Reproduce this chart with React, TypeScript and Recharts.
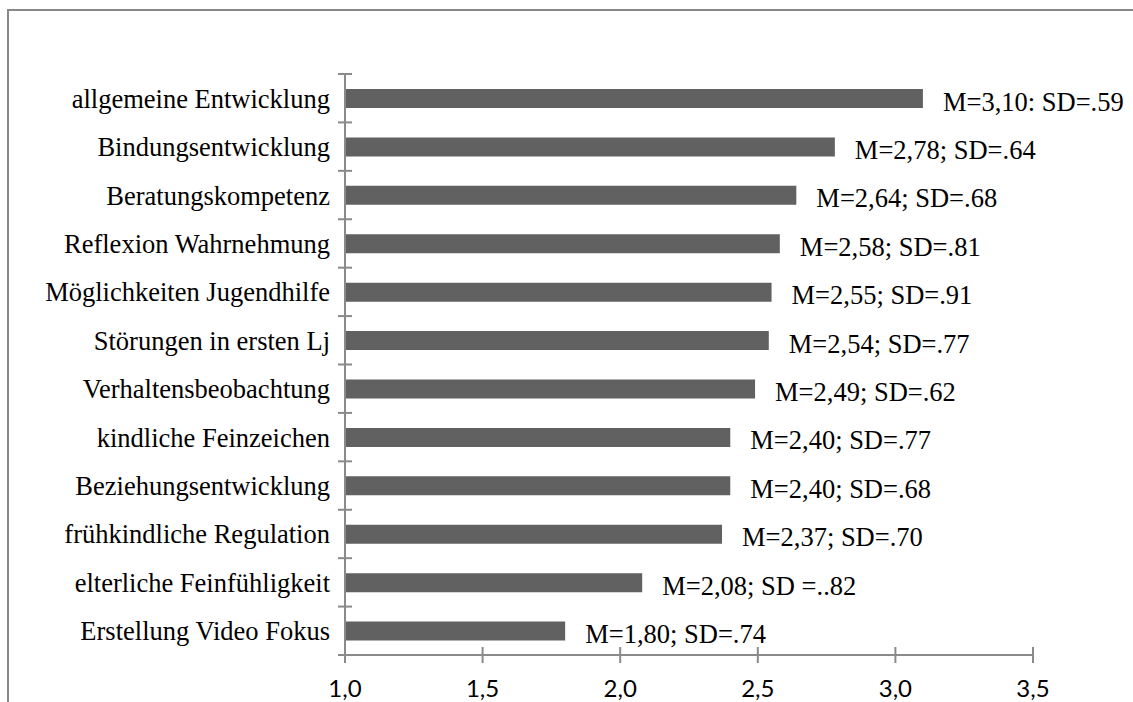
import { BarChart, Bar, XAxis, YAxis, LabelList } from "recharts";

const categories = [
  "allgemeine Entwicklung",
  "Bindungsentwicklung",
  "Beratungskompetenz",
  "Reflexion Wahrnehmung",
  "Möglichkeiten Jugendhilfe",
  "Störungen in ersten Lj",
  "Verhaltensbeobachtung ",
  "kindliche Feinzeichen",
  "Beziehungsentwicklung",
  "frühkindliche Regulation",
  "elterliche Feinfühligkeit",
  "Erstellung Video Fokus",
];

const means = [3.1, 2.78, 2.64, 2.58, 2.55, 2.54, 2.49, 2.4, 2.4, 2.37, 2.08, 1.8];

const valueLabels = [
  "M=3,10: SD=.59",
  "M=2,78; SD=.64",
  "M=2,64; SD=.68",
  "M=2,58; SD=.81",
  "M=2,55; SD=.91",
  "M=2,54; SD=.77",
  "M=2,49; SD=.62",
  "M=2,40; SD=.77",
  "M=2,40; SD=.68",
  "M=2,37; SD=.70",
  "M=2,08; SD =..82",
  "M=1,80; SD=.74",
];

const xTicks = [1, 1.5, 2, 2.5, 3, 3.5];

const data = categories.map((name, i) => ({ name, mean: means[i], label: valueLabels[i] }));

const W = 1133;
const H = 702;
const TOP = 74;
const X_AXIS_H = 47;
const Y_AXIS_W = 345;
const RIGHT = 100;
const BAND = (H - TOP - X_AXIS_H) / categories.length;
const AXIS_X = Y_AXIS_W;
const AXIS_Y = H - X_AXIS_H;
const AXIS_COLOR = "#8a8a8a";
const BAR_COLOR = "#616161";
const SERIF = "'Liberation Serif', 'Times New Roman', serif";

const YTick = (props: any) => {
  const { y, payload, index } = props;
  const half = BAND / 2;
  return (
    <g>
      <line x1={AXIS_X - 7} x2={AXIS_X + 7} y1={y - half} y2={y - half} stroke={AXIS_COLOR} strokeWidth={2} />
      {index === categories.length - 1 && (
        <line x1={AXIS_X - 7} x2={AXIS_X + 7} y1={y + half} y2={y + half} stroke={AXIS_COLOR} strokeWidth={2} />
      )}
      <text x={AXIS_X - 15} y={y} dy="0.36em" textAnchor="end" fill="#000" fontFamily={SERIF} fontSize={26.5}>
        {payload.value}
      </text>
    </g>
  );
};

const XTick = (props: any) => {
  const { x, payload } = props;
  return (
    <g>
      <line x1={x} x2={x} y1={AXIS_Y - 8} y2={AXIS_Y + 8} stroke={AXIS_COLOR} strokeWidth={2} />
      <text x={x} y={AXIS_Y + 42} textAnchor="middle" fill="#000" fontFamily="Lato, sans-serif" fontSize={24}>
        {payload.value.toFixed(1).replace(".", ",")}
      </text>
    </g>
  );
};

const ValueLabel = (props: any) => {
  const { x, y, width, height, value } = props;
  return (
    <text x={x + width + 20} y={y + height / 2 + 12} fill="#000" fontFamily={SERIF} fontSize={26.5}>
      {value}
    </text>
  );
};

export default function App() {
  return (
    <div style={{ position: "absolute", left: 0, top: 0, width: W, height: H, overflow: "hidden", background: "#fff" }}>
      <div
        style={{
          position: "absolute",
          left: 7,
          top: 9,
          width: 1300,
          height: 900,
          borderTop: "2px solid #888",
          borderLeft: "2px solid #888",
        }}
      />
      <div style={{ position: "absolute", left: 0, top: 0 }}>
        <BarChart
          width={W}
          height={H}
          data={data}
          layout="vertical"
          margin={{ top: TOP, right: RIGHT, left: 0, bottom: 0 }}
          barSize={19}
        >
          <XAxis
            type="number"
            domain={[1, 3.5]}
            ticks={xTicks}
            height={X_AXIS_H}
            axisLine={{ stroke: AXIS_COLOR, strokeWidth: 2 }}
            tickLine={false}
            tick={<XTick />}
            interval={0}
            allowDataOverflow
          />
          <YAxis
            type="category"
            dataKey="name"
            width={Y_AXIS_W}
            axisLine={{ stroke: AXIS_COLOR, strokeWidth: 2 }}
            tickLine={false}
            tick={<YTick />}
            interval={0}
          />
          <Bar dataKey="mean" fill={BAR_COLOR} isAnimationActive={false}>
            <LabelList dataKey="label" content={<ValueLabel />} />
          </Bar>
        </BarChart>
      </div>
    </div>
  );
}
